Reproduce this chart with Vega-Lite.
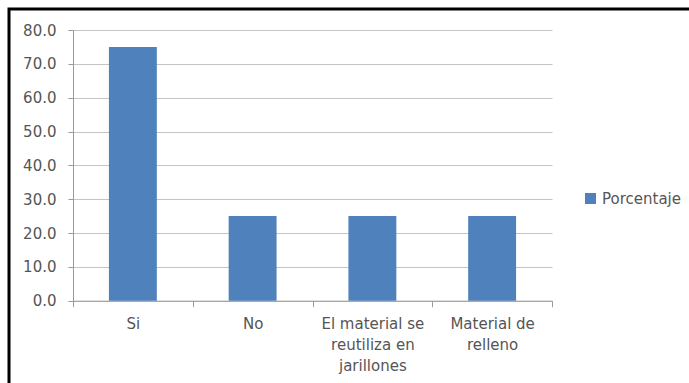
{
  "$schema": "https://vega.github.io/schema/vega-lite/v6.json",
  "width": 690,
  "height": 384,
  "autosize": {"type": "none"},
  "padding": {"left": 9, "top": 9, "right": 0, "bottom": 0},
  "background": "white",
  "data": {
    "values": [
      {"respuesta": "Si", "porcentaje": 75.0},
      {"respuesta": "No", "porcentaje": 25.0},
      {"respuesta": "El material se reutiliza en jarillones", "porcentaje": 25.0},
      {"respuesta": "Material de relleno", "porcentaje": 25.0}
    ]
  },
  "mark": {"type": "bar", "width": {"band": 0.4}},
  "encoding": {
    "x": {
      "field": "respuesta",
      "type": "nominal",
      "sort": null,
      "scale": {"range": [64, 543], "paddingInner": 0, "paddingOuter": 0},
      "axis": {
        "orient": "bottom",
        "offset": -92.3,
        "title": null,
        "labelAngle": 0,
        "tickBand": "extent",
        "grid": false,
        "domainColor": "#9a9a9a",
        "tickColor": "#9a9a9a",
        "tickSize": 6,
        "labelPadding": 10,
        "labelFont": "DejaVu Sans",
        "labelFontSize": 15,
        "labelColor": "#555555",
        "labelLineHeight": 21,
        "labelExpr": "datum.value == 'El material se reutiliza en jarillones' ? ['El material se', 'reutiliza en', 'jarillones'] : datum.value == 'Material de relleno' ? ['Material de', 'relleno'] : datum.value"
      }
    },
    "y": {
      "field": "porcentaje",
      "type": "quantitative",
      "scale": {"domain": [0, 80], "range": [291.7, 21], "nice": false},
      "axis": {
        "offset": -64,
        "title": null,
        "values": [0, 10, 20, 30, 40, 50, 60, 70, 80],
        "format": ".1f",
        "grid": true,
        "gridColor": "#c4c4c4",
        "domainColor": "#9a9a9a",
        "tickColor": "#9a9a9a",
        "tickSize": 5,
        "labelPadding": 12,
        "labelFont": "DejaVu Sans",
        "labelFontSize": 15,
        "labelColor": "#555555"
      }
    },
    "color": {
      "datum": "Porcentaje",
      "type": "nominal",
      "scale": {"range": ["#4F81BD"]},
      "legend": {
        "title": null,
        "orient": "none",
        "legendX": 574,
        "legendY": 182,
        "padding": 0,
        "symbolType": "square",
        "symbolSize": 121,
        "symbolStrokeWidth": 0,
        "labelFont": "DejaVu Sans",
        "labelFontSize": 15,
        "labelColor": "#555555",
        "labelOffset": 4
      }
    }
  },
  "config": {
    "font": "DejaVu Sans",
    "view": {"stroke": "black", "strokeWidth": 3}
  }
}
